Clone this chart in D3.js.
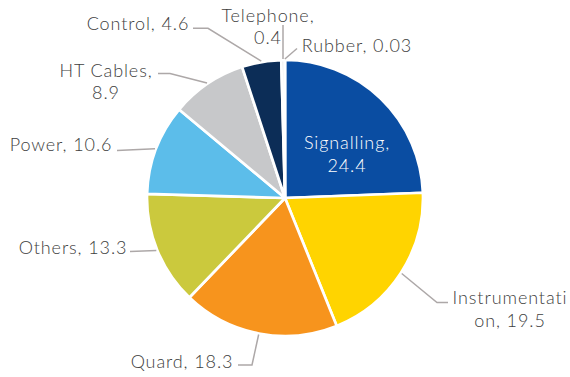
<!DOCTYPE html>
<html>
<head>
<meta charset="utf-8">
<script src="https://cdn.jsdelivr.net/npm/d3@7/dist/d3.min.js"></script>
<style>
  html, body { margin: 0; padding: 0; background: #ffffff; }
  svg { display: block; }
  text { font-family: Lato, "Open Sans", sans-serif; font-size: 18px; font-weight: 300; letter-spacing: 0.9px; }
</style>
</head>
<body>
<svg id="chart" width="570" height="377"></svg>
<script>
// Share of cable types (%)
const categories = ["Signalling", "Instrumentation", "Quard", "Others", "Power",
                    "HT Cables", "Control", "Telephone", "Rubber"];
const values = [24.4, 19.5, 18.3, 13.3, 10.6, 8.9, 4.6, 0.4, 0.03];
const colors = ["#0A4DA2", "#FFD400", "#F7941D", "#CBC93D", "#5CBDEA",
                "#C7C8CA", "#0C2D57", "#D9D9D9", "#A5A5A5"];

// Where each label's text wraps (character index in "Category, value"), null = single line
const wrapAt = [11, 13, null, null, null, 10, null, 10, null];

// Label placement: text centre x, first baseline y, leader-line points after the slice edge
const labelLayout = [
  { x: 347, y: 149, inside: true, pts: [] },
  { x: 510, y: 304, pts: [[437, 302.5], [448, 302.5]] },
  { x: 182, y: 368, pts: [[252, 365], [238, 365]] },
  { x: 73,  y: 254, pts: [[130, 251.5]] },
  { x: 61,  y: 150.5, pts: [[117, 150.5]] },
  { x: 106, y: 76.5, pts: [[170, 73.5], [158, 73.5]] },
  { x: 138, y: 30, pts: [[208, 28.3], [193, 28.3]] },
  { x: 268, y: 21.7, pts: [[283, 25]] },
  { x: 357, y: 51.5, pts: [[297, 48.5]] }
];

const cx = 285, cy = 198, radius = 138, lineGap = 22.5;

const data = categories.map((c, i) => ({ category: c, value: values[i], i }));

const svg = d3.select("#chart");
const g = svg.append("g").attr("transform", `translate(${cx},${cy})`);

const pie = d3.pie().value(d => d.value).sort(null);
const arc = d3.arc().innerRadius(0).outerRadius(radius);
const arcs = pie(data);

g.selectAll("path.slice")
  .data(arcs)
  .join("path")
  .attr("class", "slice")
  .attr("d", arc)
  .attr("fill", d => colors[d.data.i])
  .attr("stroke", "#ffffff")
  .attr("stroke-width", 2.7)
  .attr("stroke-linejoin", "round");

// Leader lines from the slice's mid-angle on the rim to the label
const line = d3.line();
arcs.forEach(d => {
  const lay = labelLayout[d.data.i];
  if (lay.inside) return;
  const a = (d.startAngle + d.endAngle) / 2;
  const start = [cx + Math.sin(a) * (radius + 1), cy - Math.cos(a) * (radius + 1)];
  svg.append("path")
    .attr("d", line([start, ...lay.pts]))
    .attr("fill", "none")
    .attr("stroke", "#ADA8A8")
    .attr("stroke-width", 1.5);
});

// Data labels "Category, value"
arcs.forEach(d => {
  const i = d.data.i;
  const lay = labelLayout[i];
  const full = `${d.data.category}, ${d.data.value}`;
  const lines = wrapAt[i] == null ? [full]
    : [full.slice(0, wrapAt[i]).trim(), full.slice(wrapAt[i]).trim()];
  const t = svg.append("text")
    .attr("text-anchor", "middle")
    .attr("fill", lay.inside ? "#ffffff" : "#404040");
  lines.forEach((s, k) => {
    t.append("tspan").attr("x", lay.x).attr("y", lay.y + k * lineGap).text(s);
  });
});
</script>
</body>
</html>
